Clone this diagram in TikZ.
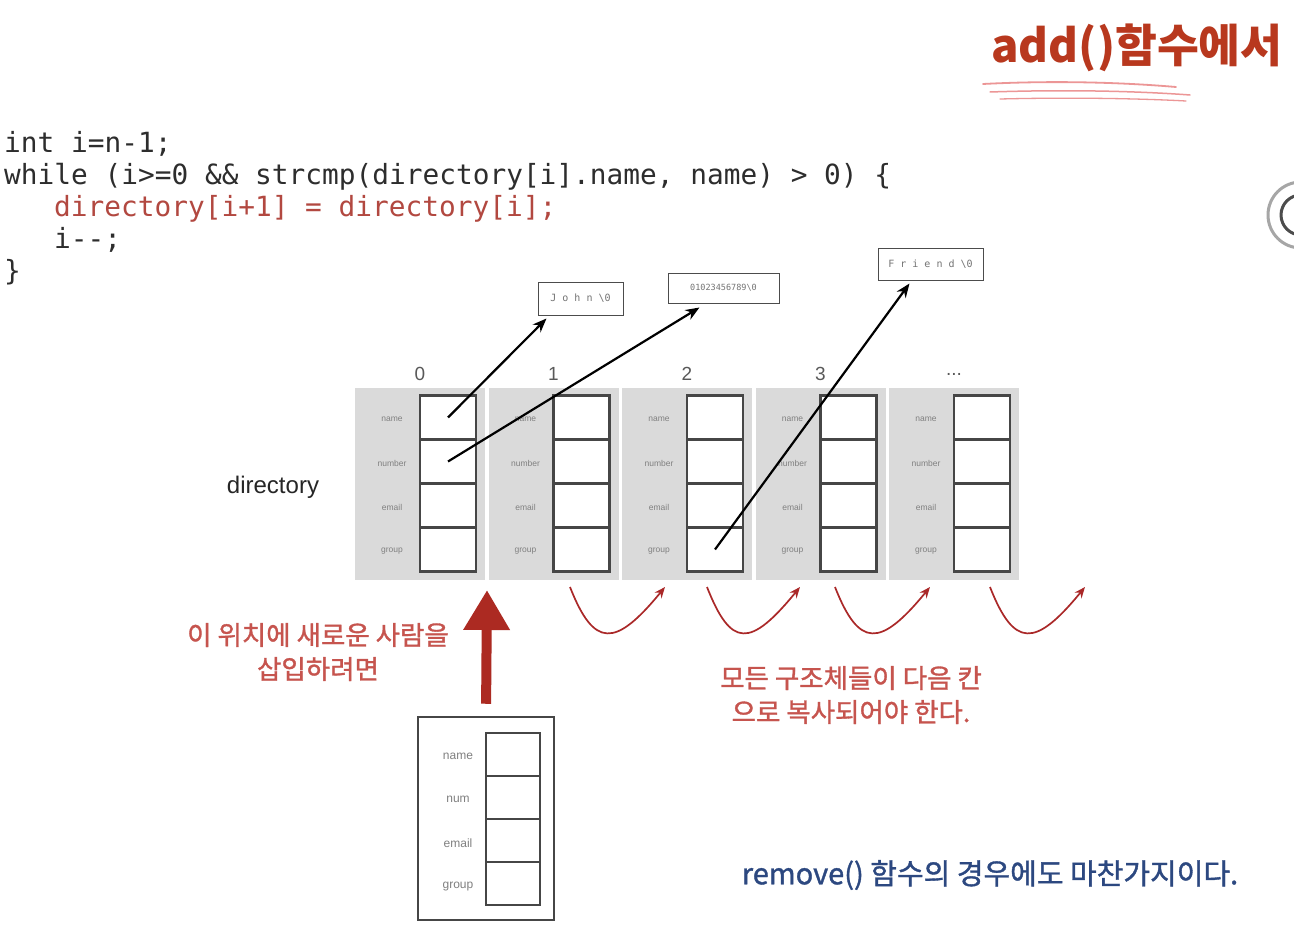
\documentclass[tikz,border=0pt]{standalone}
\usepackage{fontspec}
\setmainfont{Liberation Sans}
\newfontfamily\kr{Noto Sans CJK KR}
\newfontfamily\krm{Noto Sans CJK KR}[FakeBold=1.2]
\newfontfamily\codefont{DejaVu Sans Mono}
\usetikzlibrary{arrows.meta}
\newcommand\mytdots{...}
\definecolor{titlered}{RGB}{184,56,30}
\definecolor{codered}{RGB}{178,72,64}
\definecolor{codegray}{RGB}{45,45,45}
\definecolor{notered}{RGB}{198,84,78}
\definecolor{arcred}{RGB}{170,40,40}
\definecolor{bigred}{RGB}{172,42,34}
\definecolor{noteblue}{RGB}{44,72,128}
\definecolor{panelgray}{RGB}{218,218,218}
\definecolor{cellborder}{RGB}{70,70,70}
\definecolor{underpink}{RGB}{236,150,150}
\tikzset{
  code/.style={font=\codefont\fontsize{27.8}{30}\selectfont, text=codegray, inner sep=0pt, anchor=base west},
  panel/.style={fill=panelgray, draw=none},
  cellbox/.style={draw=cellborder, line width=2.5pt, fill=white, minimum width=56pt, minimum height=44pt, inner sep=0pt},
  fieldlbl/.style={font=\fontsize{8.5}{9}\selectfont, text=black!50, inner sep=0pt},
  idxlbl/.style={font=\fontsize{19}{20}\selectfont, text=black!65, inner sep=0pt},
  strbox/.style={draw=black!70, line width=1pt, fill=white, inner sep=0pt, font=\codefont\fontsize{10}{11}\selectfont, text=black!55},
  ptr/.style={draw=black, line width=2.2pt, -{Stealth[length=14pt,width=11pt]}},
  shiftarc/.style={draw=arcred, line width=1.7pt, -{Stealth[length=11pt,width=9pt]}},
  rednote/.style={font=\krm\fontsize{26.5}{34}\selectfont, text=notered, align=center, inner sep=0pt},
  inscell/.style={draw=cellborder, line width=2.5pt, fill=white, minimum width=54pt, minimum height=43pt, inner sep=0pt},
  inslbl/.style={font=\fontsize{12}{13}\selectfont, text=black!50, inner sep=0pt},
}
\begin{document}
\begin{tikzpicture}[x=1pt,y=-1pt]
\useasboundingbox (0,0) rectangle (1294,934);
\fill[white] (0,0) rectangle (1294,934);

% title
\node[font=\kr\bfseries\fontsize{45.5}{48}\selectfont, text=titlered, inner sep=0pt] (title) at (1137,48) {add()함수에서};
\draw[underpink, line width=1.8pt, line cap=round] (983,84) .. controls (1060,80) and (1130,83) .. (1176,87);
\draw[underpink, line width=1.5pt, line cap=round] (990,92) .. controls (1080,89) and (1150,92) .. (1190,95);
\draw[underpink, line width=1.3pt, line cap=round] (1000,99) .. controls (1080,97) and (1150,99) .. (1186,101);

% partial circle at right edge
\draw[black!35, line width=3pt] (1301,215) circle (33);
\draw[black!70, line width=3pt] (1301,215) circle (20);

% code
\node[code] (l1) at (4,152) {int i=n-1;};
\node[code] (l2) at (4,184) {while (i>=0 \&\& strcmp(directory[i].name, name) > 0) \{};
\node[code, text=codered] (l3) at (54,216) {directory[i+1] = directory[i];};
\node[code] (l4) at (54,248) {i-{}-;};
\node[code] (l5) at (4,280) {\}};

% string boxes
\node[strbox, minimum width=85pt, minimum height=33pt] (john) at (580.5,298.5) {J o h n \textbackslash 0};
\node[strbox, minimum width=111pt, minimum height=30pt, font=\codefont\fontsize{8.5}{9}\selectfont] (phone) at (723.5,288) {01023456789\textbackslash 0};
\node[strbox, minimum width=105pt, minimum height=32pt] (friend) at (930.5,264) {F r i e n d \textbackslash 0};

% array panels
\foreach \i/\lab in {0/0,1/1,2/2,3/3,4/\mytdots} {
  \pgfmathsetmacro{\px}{355+133.5*\i}
  \fill[panel] (\px,388) rectangle (\px+130,580);
  \node[idxlbl] (idx\i) at (\px+65,374) {\lab};
  \foreach \j/\f in {0/name,1/number,2/email,3/group} {
    \node[cellbox] (c\i\j) at (\px+93,417.5+44*\j) {};
    \node[fieldlbl] (f\i\j) at (\px+37,419+44*\j) {\f};
  }
}
\node[font=\fontsize{24}{25}\selectfont, text=black!85, inner sep=0pt] (dirlbl) at (273,487) {directory};

% pointers
\draw[ptr] (c00.center) -- ([xshift=9pt,yshift=-3pt]john.south west);
\draw[ptr] (c01.center) -- ([xshift=32pt,yshift=-4pt]phone.south west);
\draw[ptr] (c23.center) -- ([xshift=32pt,yshift=-3pt]friend.south west);

% shifting arcs
\foreach \k/\sx/\ex in {1/570/665, 2/707/800, 3/835/930, 4/990/1085} {
  \coordinate (as\k) at (\sx,587);
  \coordinate (ae\k) at (\ex,587);
  \draw[shiftarc] (as\k) .. controls (\sx+24,648) and (\ex-50,648) .. (ae\k);
}

% inserted struct
\node[draw=cellborder, line width=2.5pt, minimum width=136pt, minimum height=203pt, inner sep=0pt] (ins) at (486,818.5) {};
\foreach \j/\f in {0/name,1/num,2/email,3/group} {
  \node[inscell] (n\j) at (513,754.5+43*\j) {};
  \node[inslbl] (nl\j) at (458,756+43.5*\j) {\f};
}
\coordinate (instip) at (487,590);
\draw[bigred, line width=10pt, shorten <=12pt, -{Triangle[length=40pt,width=44pt]}] (ins.north) -- (instip);

% notes
\node[rednote] (note1) at (318,652) {이 위치에 새로운 사람을\\삽입하려면};
\node[rednote] (note2) at (851,695) {모든 구조체들이 다음 칸\\으로 복사되어야 한다.};
\node[font=\krm\fontsize{29}{30}\selectfont, text=noteblue, inner sep=0pt] (note3) at (990,875) {remove() 함수의 경우에도 마찬가지이다.};
\end{tikzpicture}
\end{document}
